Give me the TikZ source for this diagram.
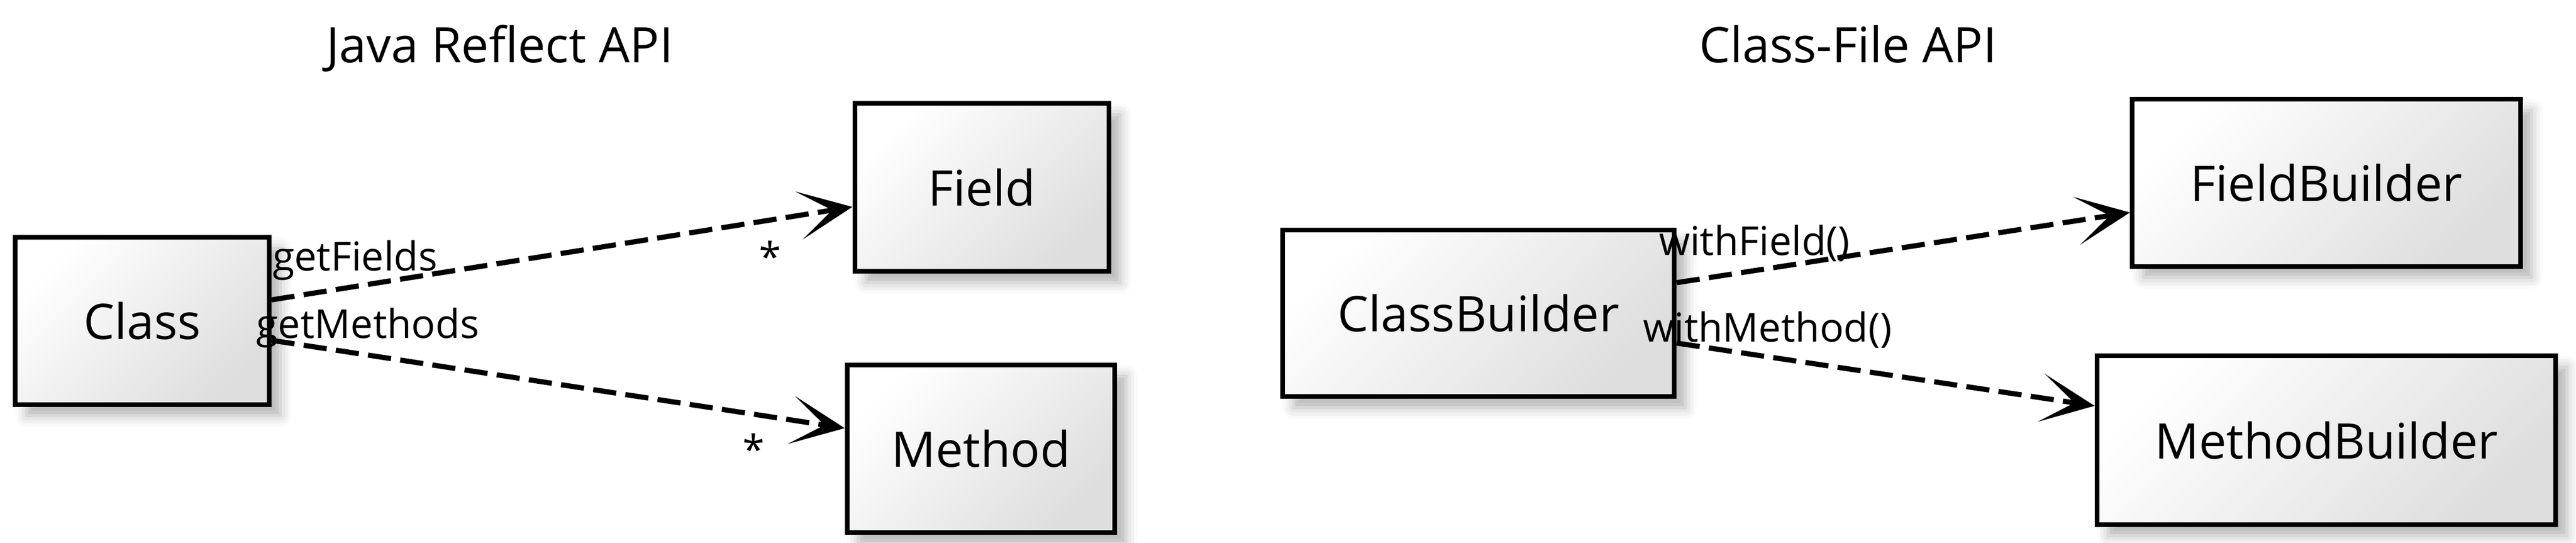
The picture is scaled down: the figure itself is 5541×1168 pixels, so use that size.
\documentclass[tikz,border=0pt]{standalone}
\usepackage{fontspec}
\setmainfont{Open Sans}
\usetikzlibrary{calc, arrows.meta, shadows.blur}
\tikzset{>=latex}
\tikzset{
  umlbox/.style={draw, line width=0.5mm, inner sep=0pt,
    top color=white, bottom color=black!13, shading angle=45,
    blur shadow={shadow xshift=1.2mm, shadow yshift=-1.2mm, shadow blur radius=1.2mm, shadow opacity=30},
    font=\fontsize{15}{18}\selectfont},
  calls/.style={line width=0.55mm, dash pattern=on 2.5mm off 1mm,
    -{Stealth[length=5.8mm, width=5.2mm, inset=3.6mm, fill=black!75, line width=0.6mm]}},
  lbl/.style={font=\fontsize{12.2}{14}\selectfont, inner sep=0pt, anchor=base west},
  mult/.style={font=\fontsize{12.2}{14}\selectfont, inner sep=0pt, anchor=base},
  heading/.style={font=\fontsize{15}{18}\selectfont, inner sep=0pt, anchor=base}
}

\begin{document}
\begin{tikzpicture}[x=0.05mm, y=-0.05mm]
\useasboundingbox (0,0) rectangle (5541,1168);
% titles
\node[heading] (reflect) at (1075,135) {Java Reflect API};
\node[heading] (classfile) at (3975,135) {Class-File API};
% Java Reflect API
\node[umlbox, minimum width=27.3mm, minimum height=18mm] (class) at (306,690) {Class};
\node[umlbox, minimum width=27.35mm, minimum height=18.05mm] (field) at (2112,403) {Field};
\node[umlbox, minimum width=28.8mm, minimum height=18mm] (method) at (2110,965) {Method};
\draw[calls] ([yshift=2.25mm]class.east) -- ([yshift=-2.1mm]field.west);
\draw[calls] ([yshift=-2.1mm]class.east) -- ([yshift=2.2mm]method.west);
\node[lbl] (getfields) at (585,582) {getFields};
\node[lbl] (getmethods) at (550,727) {getMethods};
\node[mult] (manyfields) at (1657,583) {*};
\node[mult] (manymethods) at (1621,998) {*};
% Class-File API
\node[umlbox, minimum width=42.15mm, minimum height=17.9mm] (classbuilder) at (3180,674) {ClassBuilder};
\node[umlbox, minimum width=41.75mm, minimum height=18mm] (fieldbuilder) at (5004,393) {FieldBuilder};
\node[umlbox, minimum width=49.35mm, minimum height=18.15mm] (methodbuilder) at (5004,947) {MethodBuilder};
\draw[calls] ([yshift=3.3mm]classbuilder.east) -- ([yshift=-3.2mm]fieldbuilder.west);
\draw[calls] ([yshift=-3.2mm]classbuilder.east) -- ([yshift=3.7mm]methodbuilder.west);
\node[lbl] (withfield) at (3567,549) {withField()};
\node[lbl] (withmethod) at (3533,735) {withMethod()};
\end{tikzpicture}
\end{document}
